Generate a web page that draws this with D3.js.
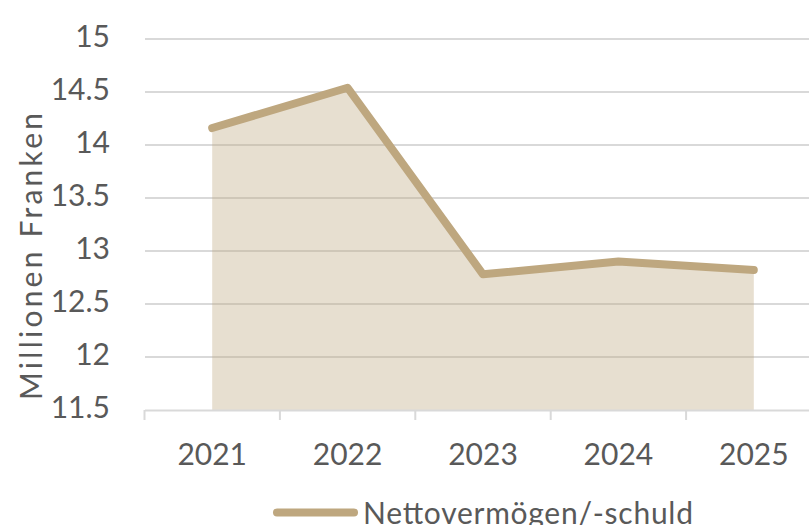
<!DOCTYPE html>
<html>
<head>
<meta charset="utf-8">
<script src="https://cdn.jsdelivr.net/npm/d3@7"></script>
<style>
  html, body { margin: 0; padding: 0; background: #fff; }
  svg { display: block; }
</style>
</head>
<body>
<div id="chart"></div>
<script>
const years = ["2021", "2022", "2023", "2024", "2025"];
const values = [14.16, 14.54, 12.78, 12.90, 12.82];
const yTicks = [11.5, 12, 12.5, 13, 13.5, 14, 14.5, 15];
const yTickLabels = ["11.5", "12", "12.5", "13", "13.5", "14", "14.5", "15"];
const seriesName = "Nettovermögen/-schuld";
const yAxisTitle = "Millionen Franken";

const W = 809, H = 525;
const font = "Lato, 'Open Sans', sans-serif";
const textColor = "#595959";
const lineColor = "#bea77f";

const svg = d3.select("#chart").append("svg").attr("width", W).attr("height", H);

const x = d3.scaleBand().domain(years).range([144.5, 821.5]).padding(0);
const y = d3.scaleLinear().domain([11.5, 15]).range([410, 39]);

// gridlines
svg.append("g").selectAll("line").data(yTicks.filter(t => t > 11.5)).join("line")
  .attr("x1", 145).attr("x2", W)
  .attr("y1", d => y(d)).attr("y2", d => y(d))
  .attr("stroke", "#d9d9d9").attr("stroke-width", 2);

// area
const xc = d => x(d) + x.bandwidth() / 2;
const data = years.map((yr, i) => ({ yr, v: values[i] }));
svg.append("path").datum(data)
  .attr("d", d3.area().x(d => xc(d.yr)).y0(y(11.5)).y1(d => y(d.v)))
  .attr("fill", lineColor).attr("fill-opacity", 0.37);

// x axis line and ticks
const xAxis = d3.axisBottom(x).tickSize(0).tickFormat(d => d);
const gx = svg.append("g").attr("transform", `translate(0,${y(11.5)})`).call(xAxis);
gx.select(".domain").attr("stroke", "#d9d9d9").attr("stroke-width", 2);
gx.selectAll("text").attr("font-family", font).attr("font-size", 30)
  .attr("fill", textColor).attr("y", 0).attr("dy", 55);
const boundaries = years.map(d => x(d)).concat([x(years[years.length - 1]) + x.bandwidth()]);
svg.append("g").selectAll("line").data(boundaries).join("line")
  .attr("x1", d => d).attr("x2", d => d)
  .attr("y1", y(11.5)).attr("y2", y(11.5) + 10)
  .attr("stroke", "#d9d9d9").attr("stroke-width", 2);

// line
svg.append("path").datum(data)
  .attr("d", d3.line().x(d => xc(d.yr)).y(d => y(d.v)))
  .attr("fill", "none").attr("stroke", lineColor).attr("stroke-width", 8)
  .attr("stroke-linecap", "round").attr("stroke-linejoin", "round");

// y labels
svg.append("g").selectAll("text").data(yTicks).join("text")
  .attr("x", 110).attr("y", d => y(d) + 8)
  .attr("text-anchor", "end")
  .attr("font-family", font).attr("font-size", 30).attr("fill", textColor)
  .text((d, i) => yTickLabels[i]);

// y axis title
svg.append("text")
  .attr("transform", "translate(42,256.5) rotate(-90)")
  .attr("text-anchor", "middle")
  .attr("font-family", font).attr("font-size", 30).attr("fill", textColor)
  .attr("textLength", 287).attr("lengthAdjust", "spacing")
  .text(yAxisTitle);

// legend
svg.append("line").attr("x1", 277).attr("x2", 354).attr("y1", 512.5).attr("y2", 512.5)
  .attr("stroke", lineColor).attr("stroke-width", 8).attr("stroke-linecap", "round");
svg.append("text").attr("x", 363).attr("y", 523.5)
  .attr("font-family", font).attr("font-size", 30).attr("fill", textColor)
  .attr("textLength", 330).attr("lengthAdjust", "spacing")
  .text(seriesName);
</script>
</body>
</html>
